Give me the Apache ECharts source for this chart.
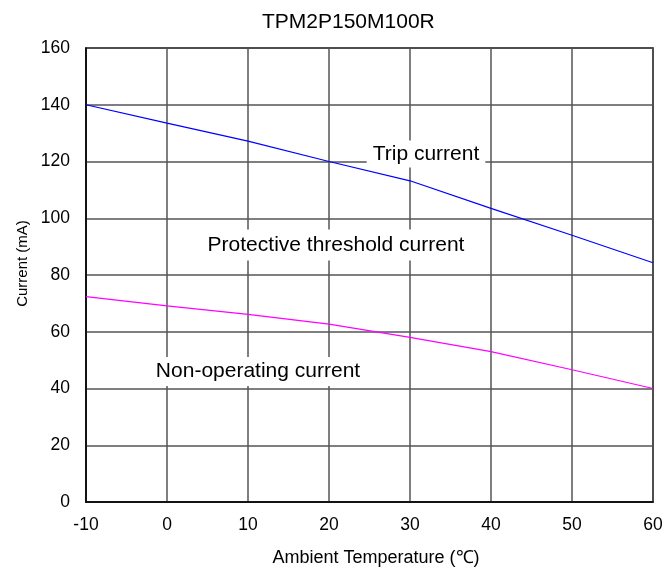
<!DOCTYPE html>
<html>
<head>
<meta charset="utf-8">
<script src="https://cdn.jsdelivr.net/npm/echarts@6/dist/echarts.min.js"></script>
<style>html,body{margin:0;padding:0;background:#fff}#c{width:667px;height:572px}</style>
</head>
<body>
<div id="c"></div>
<script>
const temps = [-10, 0, 10, 20, 30, 40, 50, 60];
const tripCurrent = [140, 133.5, 127.2, 120, 113.2, 103.5, 94, 84.3];
const nonOperatingCurrent = [72.4, 69.1, 66.1, 62.7, 58, 53, 46.6, 40];
const titleText = 'TPM2P150M100R';
const xName = 'Ambient Temperature (\u2103)';
const yName = 'Current (mA)';
const annoTrip = 'Trip current';
const annoProt = 'Protective threshold current';
const annoNon = 'Non-operating current';

const FONT = '"Liberation Sans", Arial, sans-serif';
const chart = echarts.init(document.getElementById('c'), null, {renderer: 'canvas'});
const pair = (xs, ys) => xs.map((x, i) => [x, ys[i]]);
const anno = (text, x, y, pad) => ({
  type: 'text', x: x, y: y, z: 50,
  style: {
    text: text, fill: '#000', font: '21px ' + FONT, lineHeight: 21,
    align: 'center', verticalAlign: 'middle',
    backgroundColor: '#fff', padding: pad
  }
});
chart.setOption({
  animation: false,
  backgroundColor: '#fff',
  title: {
    text: titleText, left: 262, top: 12, padding: 0,
    textStyle: {fontFamily: FONT, fontSize: 21, fontWeight: 'normal', color: '#000'}
  },
  grid: {left: 86, right: 14, top: 48, bottom: 67, show: true, borderColor: '#000', borderWidth: 1.5},
  xAxis: {
    type: 'value', min: -10, max: 60, interval: 10,
    name: xName, nameLocation: 'middle', nameGap: 47,
    nameTextStyle: {fontFamily: FONT, fontSize: 18, color: '#000', padding: [0, 0, 0, 13]},
    axisLine: {onZero: false, lineStyle: {color: '#000', width: 1.5}},
    axisTick: {show: false},
    axisLabel: {fontFamily: FONT, fontSize: 17.5, color: '#000', margin: 14},
    splitLine: {show: true, lineStyle: {color: '#555', width: 1.5}}
  },
  yAxis: {
    type: 'value', min: 0, max: 160, interval: 20,
    name: yName, nameLocation: 'middle', nameGap: 55,
    nameTextStyle: {fontFamily: FONT, fontSize: 15, color: '#000', padding: [0, 0, 0, 23]},
    axisLine: {show: true, onZero: false, lineStyle: {color: '#000', width: 1.5}},
    axisTick: {show: false},
    axisLabel: {fontFamily: FONT, fontSize: 17.5, color: '#000', margin: 16, padding: [3, 0, 0, 0]},
    splitLine: {show: true, lineStyle: {color: '#555', width: 1.5}}
  },
  series: [
    {type: 'line', data: pair(temps, tripCurrent), symbol: 'none', z: 60,
     lineStyle: {color: '#0000ff', width: 1.2}},
    {type: 'line', data: pair(temps, nonOperatingCurrent), symbol: 'none', z: 60,
     lineStyle: {color: '#ff00ff', width: 1.2}}
  ],
  graphic: [
    anno(annoTrip, 426, 154, [3, 6, 3, 6]),
    anno(annoProt, 336, 245, [5, 6, 5, 6]),
    anno(annoNon, 258, 371.5, [4, 6, 4, 6])
  ]
});
</script>
</body>
</html>
